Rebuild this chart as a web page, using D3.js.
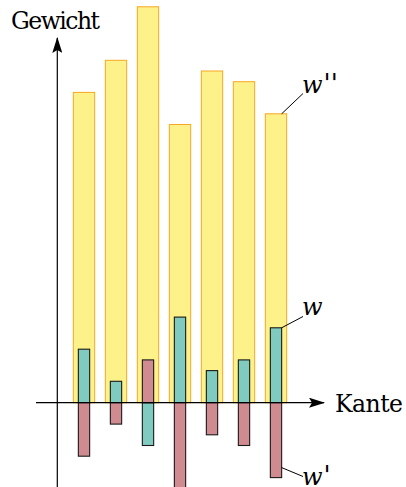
<!DOCTYPE html>
<html>
<head>
<meta charset="utf-8">
<script src="https://cdn.jsdelivr.net/npm/d3@7"></script>
<style>
  html, body { margin: 0; padding: 0; background: #fff; }
</style>
</head>
<body>
<div id="chart"></div>
<script>
// edges and their weights (in grid units)
const edges = ["e1", "e2", "e3", "e4", "e5", "e6", "e7"];
const wValues = [5, 2, -4, 8, 3, 4, 7];        // w  (teal)
const wPrimeValues = [-5, -2, 4, -8, -3, -4, -7]; // w' (red)
const wDoubleValues = [29, 32, 37, 26, 31, 30, 27]; // w'' (yellow)

const width = 406;
const height = 487;
const serif = "'DejaVu Serif', serif";

const svg = d3.select("#chart")
  .append("svg")
  .attr("width", width)
  .attr("height", height);

const defs = svg.append("defs");
defs.append("marker")
  .attr("id", "arrow")
  .attr("viewBox", "0 0 16 10")
  .attr("refX", 15)
  .attr("refY", 5)
  .attr("markerWidth", 16)
  .attr("markerHeight", 10)
  .attr("markerUnits", "userSpaceOnUse")
  .attr("orient", "auto")
  .append("path")
  .attr("d", "M0,0 L16,5 L0,10 L3,5 Z")
  .attr("fill", "#000");

const x = d3.scaleBand()
  .domain(edges)
  .range([68, 292])
  .paddingInner(1 / 3)
  .paddingOuter(1 / 6);

const y = d3.scaleLinear()
  .domain([0, 37])
  .range([402.7, 6.8]);

const narrow = x.bandwidth() * 0.53;
const cx = d => x(d) + x.bandwidth() / 2;

// yellow bars (w'')
svg.append("g")
  .selectAll("rect")
  .data(edges)
  .join("rect")
  .attr("x", d => x(d))
  .attr("width", x.bandwidth())
  .attr("y", (d, i) => y(wDoubleValues[i]))
  .attr("height", (d, i) => y(0) - y(wDoubleValues[i]))
  .attr("fill", "#fdf18a")
  .attr("stroke", "#f7a823")
  .attr("stroke-width", 1);

// helper for signed bars
function signedBars(values, fill) {
  svg.append("g")
    .selectAll("rect")
    .data(edges)
    .join("rect")
    .attr("x", d => cx(d) - narrow / 2)
    .attr("width", narrow)
    .attr("y", (d, i) => y(Math.max(0, values[i])))
    .attr("height", (d, i) => Math.abs(y(values[i]) - y(0)))
    .attr("fill", fill)
    .attr("stroke", "#1a1a1a")
    .attr("stroke-width", 1.1);
}
signedBars(wValues, "#80cbc0");
signedBars(wPrimeValues, "#d08b90");

// axes
svg.append("line")
  .attr("x1", 57.3).attr("x2", 57.3)
  .attr("y1", height + 2).attr("y2", 38)
  .attr("stroke", "#000").attr("stroke-width", 1.2)
  .attr("marker-end", "url(#arrow)");

svg.append("line")
  .attr("x1", 36).attr("x2", 324)
  .attr("y1", y(0)).attr("y2", y(0))
  .attr("stroke", "#000").attr("stroke-width", 1.2)
  .attr("marker-end", "url(#arrow)");

svg.append("text")
  .attr("x", 11).attr("y", 28.5)
  .attr("font-family", serif)
  .attr("font-size", 23.5)
  .attr("textLength", 89)
  .text("Gewicht");

svg.append("text")
  .attr("x", 335).attr("y", y(0) + 9)
  .attr("font-family", serif)
  .attr("font-size", 23.5)
  .attr("textLength", 68)
  .text("Kante");

// leader labels on the last edge
const last = edges[edges.length - 1];
const li = edges.length - 1;
const xr = cx(last) + narrow / 2;
const labels = [
  { primes: "''", y0: y(wDoubleValues[li]), y1: 93.5, ty: 93 },
  { primes: "", y0: y(wValues[li]), y1: 316.5, ty: 315 },
  { primes: "'", y0: y(wPrimeValues[li]) - 10, y1: 476.5, ty: 485 }
];

labels.forEach(l => {
  svg.append("line")
    .attr("x1", xr).attr("y1", l.y0)
    .attr("x2", 303).attr("y2", l.y1)
    .attr("stroke", "#000").attr("stroke-width", 1);
  const t = svg.append("text")
    .attr("x", 302).attr("y", l.ty)
    .attr("font-family", serif)
    .attr("font-size", 24)
    .attr("font-style", "italic")
    .text("w");
  if (l.primes) {
    t.append("tspan")
      .attr("font-size", 26)
      .attr("dx", 1)
      .attr("dy", -1)
      .attr("letter-spacing", 0)
      .text(l.primes);
  }
});
</script>
</body>
</html>
